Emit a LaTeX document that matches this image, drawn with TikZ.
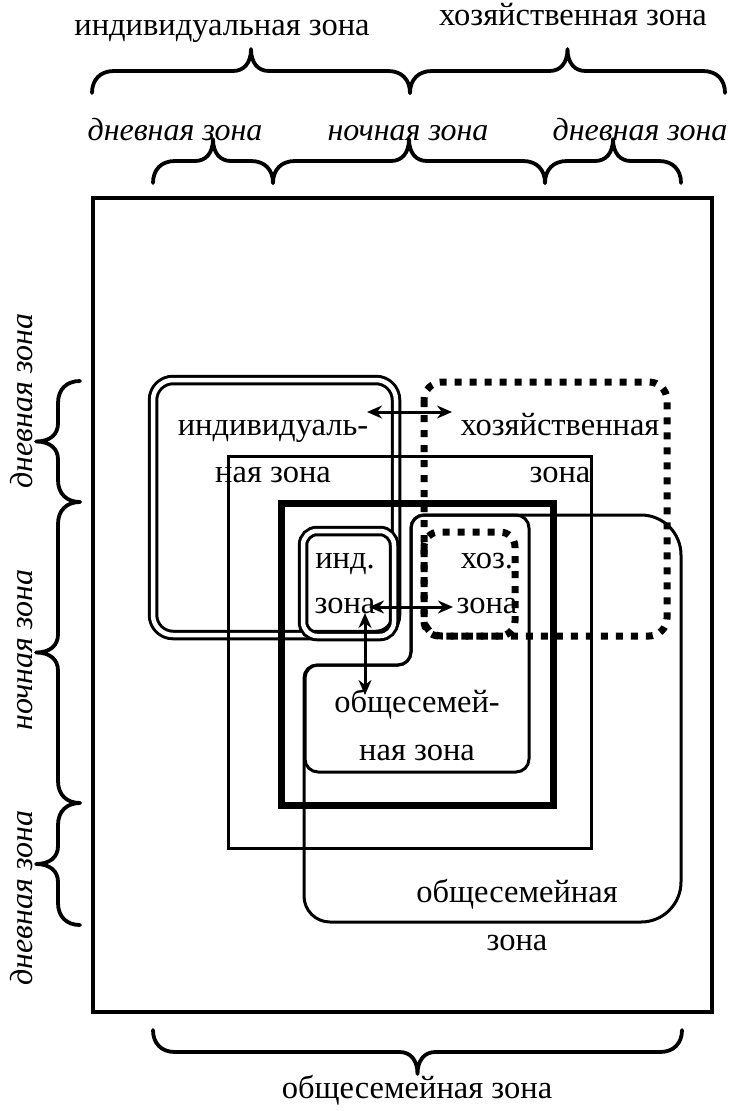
\documentclass[tikz,border=0pt]{standalone}
\usepackage{fontspec}
\setmainfont{Liberation Serif}
\usetikzlibrary{arrows.meta}

\tikzset{
  zone/.style={line width=3pt, rounded corners=13pt},
  dblzone/.style={line width=3pt, double, double distance=4.5pt, rounded corners=#1},
  dotzone/.style={line width=7pt, dash pattern=on 7pt off 8pt, rounded corners=#1},
  lbl/.style={anchor=base, inner sep=0pt, font=\fontsize{32.5}{47}\selectfont},
  ilbl/.style={lbl, font=\fontsize{32}{47}\selectfont\itshape},
  link/.style={line width=3pt, {Stealth[length=15pt,width=13pt]}-{Stealth[length=15pt,width=13pt]}},
  bracestyle/.style={line width=3.8pt, line join=round, line cap=round},
  pics/zbrace/.style={code={
    \draw[bracestyle] (0,0) .. controls (0,-13) and (8,-22) .. (22,-22)
      -- ({#1/2-18},-22) .. controls ({#1/2-7},-22) and ({#1/2},-30) .. ({#1/2},-44)
      .. controls ({#1/2},-30) and ({#1/2+7},-22) .. ({#1/2+18},-22)
      -- ({#1-22},-22) .. controls ({#1-8},-22) and (#1,-13) .. (#1,0);
  }}
}

\begin{document}
\begin{tikzpicture}[x=1pt,y=-1pt]
	\useasboundingbox (0,0) rectangle (734,1111);
	% plan outline
	\draw[line width=4.5pt] (93,198) rectangle (712,1012);
	% zones
	\draw[dblzone=20pt] (153,380) rectangle (396,635);
	\draw[dblzone=14pt] (303,531) rectangle (394,636);
	\draw[line width=3pt] (228,456) rectangle (591,848);
	\draw[line width=7pt] (281,503) rectangle (553,805);
	\draw[zone] (305,720) -- (305,665) -- (411,665) -- (411,515) -- (529,515) -- (529,772) -- (305,772) -- cycle;
	\draw[zone] (304,800) -- (304,665) -- (411,665) -- (411,515) [rounded corners=40pt] -- (681,515) -- (681,922) [rounded corners=26pt] -- (304,922) -- cycle;
	\draw[dotzone=18pt] (424,382) rectangle (667,636);
	\draw[dotzone=15pt] (424,532) rectangle (515,636);
	% braces
	\pic at (92,93) {zbrace=318};
	\pic at (410,93) {zbrace=315};
	\pic at (153,183) {zbrace=120};
	\pic at (273,183) {zbrace=272};
	\pic at (545,183) {zbrace=136};
	\pic[rotate=90] at (80,502) {zbrace=121};
	\pic[rotate=90] at (80,803) {zbrace=301};
	\pic[rotate=90] at (80,925) {zbrace=122};
	\pic[yscale=-1] at (153,1030) {zbrace=529};
	% labels
	\node[lbl] (indtop) at (222,35) {индивидуальная зона};
	\node[lbl] (hoztop) at (573,25) {хозяйственная зона};
	\node[ilbl] (day1) at (175,140) {дневная зона};
	\node[ilbl] (night) at (408,140) {ночная зона};
	\node[ilbl] (day2) at (640,140) {дневная зона};
	\node[ilbl, rotate=90] (lday1) at (32,401) {дневная зона};
	\node[ilbl, rotate=90] (lnight) at (32,650) {ночная зона};
	\node[ilbl, rotate=90] (lday2) at (32,898) {дневная зона};
	\node[lbl] (ind1) at (273,435) {индивидуаль-};
	\node[lbl] (ind2) at (273,482) {ная зона};
	\node[lbl] (hoz1) at (560,435) {хозяйственная};
	\node[lbl] (hoz2) at (560,482) {зона};
	\node[lbl] (sind1) at (345,568) {инд.};
	\node[lbl] (sind2) at (345,613) {зона};
	\node[lbl] (shoz1) at (487,568) {хоз.};
	\node[lbl] (shoz2) at (487,613) {зона};
	\node[lbl] (sobs1) at (417,712) {общесемей-};
	\node[lbl] (sobs2) at (417,760) {ная зона};
	\node[lbl] (obs1) at (517,902) {общесемейная};
	\node[lbl] (obs2) at (517,950) {зона};
	\node[lbl] (obsbot) at (417,1098) {общесемейная зона};
	% links
	\coordinate (indE) at (367,412);
	\coordinate (hozW) at (452,412);
	\coordinate (sindE) at (369,607);
	\coordinate (shozW) at (453,607);
	\coordinate (sindS) at (365,613);
	\coordinate (sobsN) at (365,695);
	\draw[link] (indE) -- (hozW);
	\draw[link] (sindE) -- (shozW);
	\draw[link] (sindS) -- (sobsN);
\end{tikzpicture}
\end{document}
